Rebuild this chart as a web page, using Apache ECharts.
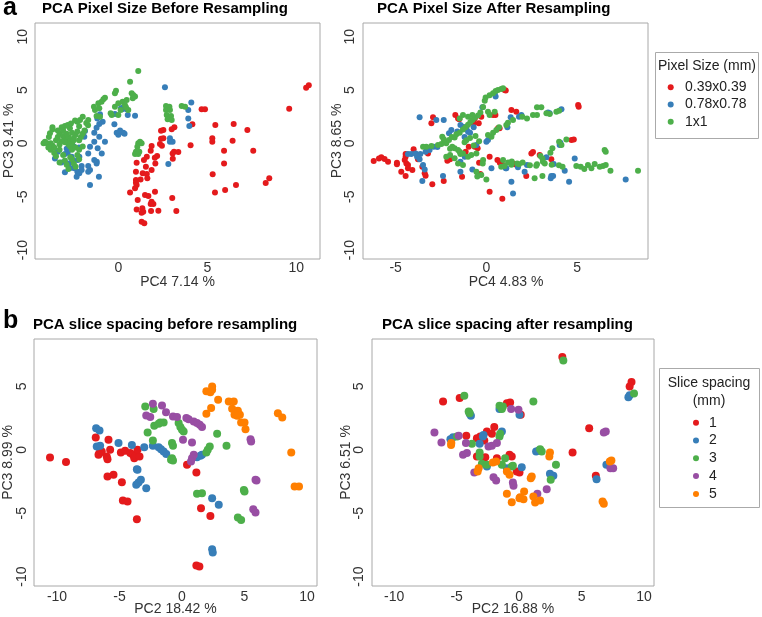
<!DOCTYPE html>
<html><head><meta charset="utf-8">
<script src="https://cdn.jsdelivr.net/npm/echarts@6/dist/echarts.min.js"></script>
<style>html,body{margin:0;padding:0;background:#fff}#c{width:762px;height:617px}</style>
</head><body><div id="c"></div>
<script>
// ---------- DATA ----------
const pixelLegend = ["0.39x0.39", "0.78x0.78", "1x1"];
const sliceLegend = ["1", "2", "3", "4", "5"];
const ticksA = [-10, -5, 0, 5, 10];
const ticksB = [-10, -5, 0, 5, 10];

// Panel a-left: PCA Pixel Size Before Resampling (PC4 vs PC3)
const pixBeforeRed = [[9.6,3.25],[10.55,5.2],[10.7,5.45],[4.68,3.19],[4.87,3.19],[4.16,1.78],[5.45,1.72],[6.48,1.81],[7.25,1.25],[5.28,0.47],[5.28,0.16],[6.42,0.25],[4.06,-0.19],[5.94,-0.69],[7.58,-0.69],[5.94,-1.88],[5.3,-2.9],[8.48,-3.28],[8.28,-3.72],[6.61,-3.9],[6.0,-4.38],[5.43,-4.6],[3.03,-5.13],[3.26,-6.34],[3.15,1.5],[3.0,1.31],[2.53,1.25],[2.4,1.19],[2.4,0.44],[2.53,0.47],[2.34,-0.06],[2.45,-0.22],[1.87,-0.25],[1.82,-0.69],[3.13,-0.78],[3.05,-0.94],[3.37,-0.81],[3.06,-1.44],[2.18,-1.19],[2.05,-1.34],[1.6,-1.25],[1.44,-1.56],[1.03,-1.81],[2.08,-1.88],[1.87,-2.5],[1.55,-2.19],[1.37,-2.81],[1.6,-2.88],[0.99,-2.66],[1.25,-3.38],[1.63,-3.28],[0.99,-3.44],[0.99,-3.69],[1.03,-3.9],[0.94,-4.22],[0.66,-4.6],[1.5,-4.84],[1.69,-4.94],[2.06,-4.53],[1.09,-5.31],[1.87,-5.47],[1.82,-5.69],[1.97,-5.69],[1.35,-6.09],[1.4,-6.4],[1.03,-6.19],[1.31,-6.5],[1.84,-6.34],[2.25,-6.31],[1.31,-7.34],[1.46,-7.5]];
const pixBeforeBlue = [[2.62,5.25],[4.1,3.84],[3.93,3.13],[3.93,2.34],[3.99,1.63],[2.9,0.47],[2.9,0.16],[3.05,0.16],[2.81,-1.94],[0.94,2.59],[0.15,3.28],[0.28,3.38],[0.22,3.19],[0.47,3.19],[0.53,2.65],[-0.19,2.75],[-0.88,2.03],[-1.07,1.81],[-0.22,1.78],[-0.09,0.99],[0.28,0.99],[-1.35,0.99],[-1.87,1.15],[-1.07,0.62],[-0.75,0.15],[-1.35,0.15],[-1.91,0.62],[-1.16,-0.47],[-0.93,-0.94],[-1.59,-0.32],[-1.69,-0.94],[-2.21,-0.38],[-2.19,-1.25],[-2.28,-1.56],[-1.35,-1.56],[-1.21,-1.72],[-1.69,-2.13],[-2.06,-2.13],[-2.62,-1.25],[-3.4,-0.78],[-3.56,-1.41],[-2.84,-0.88],[-2.47,-2.34],[-1.18,2.34],[-1.03,2.72],[-1.22,1.47],[0.0,0.8],[0.35,0.9],[0.1,1.2],[-1.22,-1.88],[-1.59,-2.5],[-1.69,-2.66],[-1.09,-3.13],[-1.59,-3.9],[-2.3,-2.66],[-2.19,-2.81],[-2.34,-3.13],[-2.06,-2.5],[-3.0,-2.72],[-2.81,-1.88],[-2.58,-1.56],[-3.0,-1.0],[-2.5,-0.3],[-2.9,-0.5],[-3.2,-1.8],[-2.7,-2.3]];
const pixBeforeGreen = [[1.12,6.78],[0.66,5.78],[-0.13,4.94],[-0.19,4.69],[-0.84,4.13],[-0.94,3.91],[-0.75,4.28],[-1.12,3.75],[-1.31,3.13],[-1.37,3.44],[-1.07,3.28],[-1.22,2.56],[-1.03,2.5],[-0.37,2.66],[-0.43,2.81],[-0.19,3.44],[0,3.75],[0.24,3.91],[0.47,4.06],[0.37,3.59],[0.13,3.13],[0.56,3.13],[0.43,3.38],[0.75,4.69],[0.84,4.53],[0.94,4.38],[0.81,4.22],[0,2.66],[-1.69,2.19],[-2.0,2.5],[-2.15,2.19],[-2.3,2.03],[-2.43,2.13],[-2.72,1.41],[-3.0,1.63],[-3.18,1.5],[2.68,3.5],[2.87,3.44],[2.68,3.13],[2.9,3.13],[2.72,2.66],[2.96,2.56],[2.77,2.25],[3.0,2.19],[3.56,3.5],[3.75,3.44],[1.12,0],[1.22,0.16],[1.31,0],[1.07,-0.31],[0.99,-0.78],[1.18,-0.78],[0.94,-1.0],[1.12,-1.0],[-4.0,0],[-4.2,0.0],[-3.8,0.0],[-3.7,-0.2],[-3.6,-0.4],[-3.5,0.3],[-3.7,1.5],[-3.7,1.3],[-3.4,0.6],[-3.3,0.9],[-3.1,0.7],[-3.0,0.5],[-2.9,0.3],[-2.8,0.6],[-2.9,0.9],[-2.7,0.2],[-2.6,0.0],[-2.8,-0.1],[-3.0,0.1],[-3.2,0.2],[-3.3,-0.1],[-2.5,0.5],[-2.4,0.8],[-2.6,1.0],[-2.3,1.1],[-2.5,0.3],[-2.7,-0.3],[-2.6,-0.6],[-2.4,-0.4],[-2.2,0.3],[-2.1,0.6],[-2.0,0.9],[-1.9,1.2],[-2.2,-0.6],[-2.0,-0.3],[-2.3,-1.1],[-2.7,-1.3],[-3.0,-1.6],[-3.3,-1.8],[-2.9,-2.0],[-2.5,-1.9],[-2.4,-2.2],[-2.2,-1.5],[-3.6,-0.9],[-3.3,-0.6],[-3.1,-1.1],[-3.9,0.6],[-3.4,1.2],[-3.1,1.2],[-2.2,1.6],[-1.8,1.9],[-1.7,1.7],[-2.6,-1.5],[-2.8,-2.4],[-3.5,-1.2],[-3.8,-0.6],[-3.84,0.94],[-4.12,0.15],[-3.93,-0.38],[-2.84,1.72],[-2.66,1.87]];

// Panel a-right: PCA Pixel Size After Resampling (PC4 vs PC3)
const pixAfterRed = [[-6.21,-1.66],[-5.92,-1.41],[-5.79,-1.31],[-5.61,-1.47],[-5.42,-1.72],[-4.93,-1.81],[-4.93,-1.97],[-4.69,-2.66],[-4.45,-1.0],[-4.45,-1.25],[-4.5,-1.56],[-4.41,-1.88],[-4.45,-3.06],[-4.32,-2.03],[-4.32,-2.34],[-4.08,-2.5],[-4.01,-0.56],[-3.77,-1.5],[-3.53,-2.19],[-3.4,-2.81],[-3.35,-3.03],[-3.22,-0.94],[-3.03,1.88],[-2.94,2.44],[-2.98,-3.84],[-2.35,-3.53],[-2.15,-1.63],[-1.71,2.66],[-1.56,2.34],[-1.34,-3.13],[-1.14,-0.78],[-0.64,-0.31],[-0.64,2.34],[-0.28,2.5],[-0.4,-1.81],[-0.33,-2.88],[0.18,-4.53],[0.88,-5.19],[0.18,-1.25],[0.61,-1.56],[0.74,-1.81],[0.92,-2.03],[0.64,1.41],[0.73,1.41],[1.38,3.13],[1.65,2.97],[1.0,5.0],[1.07,4.95],[0.37,2.66],[2.2,-3.06],[2.48,-0.94],[2.57,-0.8],[2.94,-1.09],[3.58,-1.5],[4.69,0.31],[4.82,0.37],[5.06,3.59],[5.09,3.44],[1.47,-1.88],[1.56,-1.97],[-0.42,1.88],[-0.7,1.88],[-1.49,2.25],[-2.0,-1.5],[-0.97,-0.31],[-0.48,-0.47],[0.5,2.66]];
const pixAfterBlue = [[-3.68,2.44],[-2.76,2.19],[-2.35,2.19],[-4.32,-1.0],[-4.14,-1.0],[-3.9,-0.94],[-3.64,-1.0],[-3.82,-1.25],[-3.68,-1.5],[-3.49,-2.03],[-3.4,-2.44],[-3.53,-3.53],[-3.35,-0.78],[-3.13,-0.63],[-2.9,-0.31],[-2.7,-0.35],[-2.39,-3.06],[-1.93,1.25],[-2.06,0.94],[-1.43,1.72],[-1.29,1.56],[-1.01,1.09],[-1.1,1.4],[-0.9,1.0],[-1.43,-1.72],[-1.43,-2.66],[-1.19,-1.25],[-0.77,-2.44],[-0.55,-0.16],[-0.22,3.38],[0,0.16],[0.09,0.31],[0.28,-2.34],[0.46,4.69],[0.51,4.38],[1.1,-2.34],[1.38,-3.59],[1.47,-4.69],[1.34,2.44],[1.16,1.5],[1.93,2.66],[1.8,2.5],[2.24,-2.03],[2.11,-2.66],[3.31,-1.31],[3.55,-3.28],[3.68,-3.06],[3.58,-3.06],[3.71,-1.94],[4.08,0.06],[4.04,-0.16],[4.56,-3.59],[4.32,-2.56],[4.87,-1.41],[4.14,3.19],[3.4,2.88],[3.49,2.81],[1.07,-2.34],[1.74,-2.25],[7.68,-3.38],[-1.6,1.1],[-1.2,0.6],[-0.7,1.5]];
const pixAfterGreen = [[-3.49,-0.31],[-3.31,-0.31],[-3.03,-0.25],[-2.67,-0.16],[-2.48,-0.06],[-2.3,0.16],[-2.21,0],[-2.06,0.31],[-2.43,0.63],[-2.35,0.38],[-1.9,0.6],[-1.75,0.55],[-1.65,0.85],[-1.47,1.0],[-1.29,1.3],[-1.15,1.5],[-1.01,1.75],[-0.88,2.0],[-0.77,2.2],[-0.64,2.4],[-0.46,2.6],[-0.33,2.9],[-0.18,3.4],[-0.09,4.0],[-0.04,4.3],[0.18,4.5],[0.37,4.7],[0.51,4.9],[0.64,5.0],[0.82,5.1],[-1.88,-0.31],[-1.75,-0.47],[-1.56,-0.63],[-1.47,-0.78],[-1.43,-1.0],[-1.29,-0.94],[-1.01,-1.25],[-0.83,-1.1],[-0.55,-0.94],[-2.21,-1.25],[-2.0,-1.1],[-1.75,-1.4],[-1.56,-1.88],[-1.29,-2.03],[-0.28,-2.97],[0,-3.38],[-0.55,-2.66],[-0.18,-1.56],[0.09,0.78],[0.28,0.63],[0.37,1.0],[0.55,1.25],[0.7,1.5],[0.18,2.66],[0.09,2.97],[0.46,2.97],[-0.77,2.66],[-1.01,2.5],[-1.29,2.66],[-1.47,2.34],[-1.1,0.3],[-0.9,0.5],[-0.6,0.7],[-0.4,0.2],[-0.7,-0.2],[-1.2,0.1],[-2.0,-0.5],[1.1,1.72],[1.19,1.94],[1.47,2.19],[1.98,2.5],[2.24,2.34],[2.57,2.66],[2.79,2.66],[2.79,3.38],[3.03,3.38],[3.31,2.81],[3.49,2.75],[3.86,2.97],[4.01,3.06],[0.92,5.16],[4.41,0.37],[4.01,0.16],[4.14,-0.16],[3.64,-0.47],[3.53,-0.88],[2.98,-1.19],[3.09,-1.41],[3.12,-1.72],[3.22,-1.88],[2.79,-1.97],[6.52,-0.63],[6.58,-0.78],[5.6,-2.03],[5.79,-2.34],[5.97,-1.94],[6.25,-2.19],[6.43,-2.13],[6.58,-2.03],[6.84,-2.56],[8.36,-2.56],[0.82,-2.19],[1.0,-2.13],[1.38,-2.0],[1.8,-1.97],[2.4,-2.05],[2.75,-2.1],[3.6,-2.0],[4.0,-2.05],[4.2,-2.2],[4.96,-2.13],[3.09,-3.06],[2.66,-3.28],[0.92,-1.56],[1.2,-1.8],[1.4,-1.7],[1.7,-1.9],[2.0,-1.8],[5.2,-2.2],[5.4,-2.4],[-0.5,-3.1],[-0.2,-1.9]];

// Panel b-left: PCA slice spacing before resampling (PC2 vs PC3)
const sliceBefore1 = [[-10.56,-0.61],[-9.28,-0.97],[-6.9,0.97],[-5.88,0.79],[-6.6,-0.26],[-6.68,-0.39],[-6.42,-0.13],[-6.02,-0.53],[-5.96,-0.74],[-5.75,0],[-5.96,-2.11],[-5.48,-1.97],[-4.89,-0.21],[-4.55,-0.08],[-4.81,-2.55],[-4.73,-4.0],[-4.36,-4.08],[-4.14,-0.26],[-3.93,-0.39],[-3.82,-0.66],[-3.74,-0.53],[-3.4,-0.53],[-3.56,0],[-3.61,-5.47],[0.4,-1.18],[1.15,-1.79],[1.52,-4.61],[2.27,-5.21],[1.15,-9.13],[1.39,-9.21]];
const sliceBefore2 = [[-6.87,1.71],[-6.6,1.53],[-6.82,0.26],[-6.55,0.32],[-5.08,0.53],[-4.01,0.39],[-3.02,0.21],[-3.61,-1.53],[-3.56,-1.58],[-3.66,-2.76],[-3.48,-2.58],[-3.29,-2.37],[-2.86,-3.03],[-2.33,0.32],[-1.87,0.21],[-1.68,0.05],[-1.47,-0.13],[-1.26,-0.32],[1.2,-0.58],[1.47,-0.47],[1.6,-0.39],[2.41,-3.82],[2.94,-4.34],[2.41,-7.84],[2.46,-8.1]];
const sliceBefore3 = [[-2.94,3.42],[-2.27,3.21],[-2.75,1.37],[-2.33,0.74],[-2.22,1.89],[-1.87,2.05],[-1.47,2.16],[-1.74,2.16],[-0.8,-0.66],[-0.88,-0.79],[-0.72,-0.84],[-0.8,0.53],[-0.72,0.32],[-0.27,2.11],[-0.13,1.79],[0,1.58],[0.13,1.45],[2.06,0],[2.22,0.26],[1.95,-0.21],[2.81,1.26],[3.56,0.32],[1.2,-3.47],[1.6,-3.42],[4.95,-3.16],[5.0,-3.29],[4.47,-5.34],[4.73,-5.53]];
const sliceBefore4 = [[-2.33,3.63],[-1.6,3.5],[-1.28,2.97],[-2.86,2.71],[-2.54,2.58],[-0.72,2.63],[-0.4,2.58],[0.35,2.5],[0.53,2.42],[0.94,2.24],[1.2,2.11],[1.42,1.97],[1.6,1.79],[0.08,0.79],[0.8,0.58],[0.94,-0.39],[0.8,-0.66],[0.72,-0.92],[5.48,0.84],[5.53,0.66],[5.88,-2.37],[5.96,-2.42],[5.7,-4.68],[5.88,-4.95]];
const sliceBefore5 = [[1.95,4.61],[2.27,4.55],[2.41,5.0],[2.41,4.74],[2.89,3.95],[2.33,3.29],[1.95,2.84],[3.74,3.82],[4.14,3.82],[4.01,3.24],[4.2,2.76],[4.47,3.08],[4.63,2.76],[4.41,2.68],[4.73,2.16],[5.0,2.16],[5.08,1.63],[7.67,2.89],[8.02,2.55],[8.74,-0.21],[9.01,-2.89],[9.36,-2.89]];

// Panel b-right: PCA slice spacing after resampling (PC2 vs PC3)
const sliceAfter1 = [[3.46,7.32],[-6.09,3.82],[-4.76,4.08],[-0.72,3.74],[-0.98,3.68],[0.13,2.76],[-1.99,1.79],[-2.58,1.45],[-2.18,1.26],[-3.11,1.05],[-3.38,0.92],[-4.23,1.1],[-2.79,0.74],[-3.38,-0.53],[-2.71,-0.58],[-1.78,-0.66],[-0.77,-0.39],[-0.59,-0.53],[-0.19,-1.71],[0.03,-1.79],[5.61,1.71],[4.28,-0.21],[6.14,-2.05],[9.0,5.35],[8.85,5.0]];
const sliceAfter2 = [[-5.5,0.84],[-5.29,1.0],[-3.96,2.84],[-3.86,2.68],[-2.9,1.05],[-2.85,1.16],[-3.16,0.47],[-1.38,1.45],[-1.57,3.21],[-1.38,3.37],[0.03,2.76],[1.36,-0.13],[1.54,-0.08],[0.21,-1.37],[2.47,-1.89],[2.74,-2.05],[-2.58,-1.32],[6.99,-1.18],[6.2,-2.32],[-0.98,-1.45],[8.75,4.15],[8.85,4.3]];
const sliceAfter3 = [[-4.39,4.26],[-4.04,3.03],[-3.96,2.89],[-1.57,3.47],[-1.3,3.42],[-1.38,3.21],[1.14,3.82],[3.54,7.05],[-4.97,1.05],[-3.78,0.47],[-3.16,-0.21],[-3.16,-0.53],[-2.98,-1.1],[-2.58,-1.18],[-1.57,1.05],[-1.52,1.26],[-1.12,-0.66],[-0.59,-1.32],[-0.5,-1.26],[-1.38,-1.18],[1.68,0.05],[1.81,-0.13],[2.95,-1.18],[2.53,-2.37],[9.2,4.45]];
const sliceAfter4 = [[-6.78,1.37],[-6.22,0.58],[-4.84,1.1],[-4.26,0.53],[-4.49,-0.39],[-4.18,-0.26],[-3.59,-1.79],[-2.45,0.26],[-2.18,0.32],[-1.78,0.53],[-2.05,-2.16],[-1.84,-2.42],[-0.5,-2.58],[-0.45,-2.84],[-0.64,3.21],[-0.05,3.16],[1.46,-3.47],[2.21,-3.11],[6.78,1.37],[6.94,1.45],[7.31,-1.45],[7.53,-1.45]];
const sliceAfter5 = [[-5.43,0.53],[-5.45,0.39],[-3.24,-1.45],[-3.32,-1.71],[-2.1,-1.0],[-1.84,-0.92],[-0.98,-1.71],[-0.77,-1.97],[-0.98,-3.47],[-0.59,-4.13],[0.08,-3.74],[0.4,-3.29],[0.03,-3.82],[0.35,-3.89],[1.01,-2.11],[0.93,-2.24],[1.14,-3.68],[1.28,-4.16],[1.68,-4.0],[2.47,-0.21],[2.42,-0.53],[6.68,-4.08],[6.78,-4.26],[7.26,-0.92],[7.39,-0.84]];

// ---------- STYLE ----------
const C = ['#E41A1C', '#377EB8', '#4DAF4A', '#984EA3', '#FF7F00'];
const FONT = '"Liberation Sans", Arial, Helvetica, sans-serif';
const grids = [
  {left: 35, top: 23, width: 285, height: 236},
  {left: 363, top: 23, width: 285, height: 236},
  {left: 34, top: 339, width: 283, height: 247},
  {left: 372, top: 339, width: 282, height: 247}
];
const xRanges = [[-4.68, 11.33], [-6.8, 8.91], [-11.84, 10.8], [-11.78, 10.8]];
const yRanges = [[-10.84, 11.28], [-10.84, 11.28], [-10.74, 8.74], [-10.74, 8.74]];
const xTicks = [[0, 5, 10], [-5, 0, 5], ticksB, ticksB];
const yTicks = [ticksA, ticksA, [-10, -5, 0, 5], [-10, -5, 0, 5]];
const xMargins = [2, 2, 4, 4];
const yMargins = [5, 6, 5, 6];

const xAxes = grids.map((g, i) => ({
  type: 'value', gridIndex: i, min: xRanges[i][0], max: xRanges[i][1],
  axisLine: {show: false}, axisTick: {show: false}, splitLine: {show: false},
  axisLabel: {customValues: xTicks[i], fontSize: 14, color: '#333', fontFamily: FONT, margin: xMargins[i]}
}));
const yAxes = grids.map((g, i) => ({
  type: 'value', gridIndex: i, min: yRanges[i][0], max: yRanges[i][1],
  axisLine: {show: false}, axisTick: {show: false}, splitLine: {show: false},
  axisLabel: {customValues: yTicks[i], fontSize: 14, color: '#333', fontFamily: FONT, rotate: 90, margin: yMargins[i]}
}));

function sc(data, idx, color, size) {
  return {type: 'scatter', xAxisIndex: idx, yAxisIndex: idx, data: data, symbol: 'circle',
    symbolSize: size, itemStyle: {color: color, opacity: 1}, silent: true, animation: false};
}
const SA = 6, SB = 8;
const series = [
  sc(pixBeforeRed, 0, C[0], SA), sc(pixBeforeBlue, 0, C[1], SA), sc(pixBeforeGreen, 0, C[2], SA),
  sc(pixAfterRed, 1, C[0], SA), sc(pixAfterBlue, 1, C[1], SA), sc(pixAfterGreen, 1, C[2], SA),
  sc(sliceBefore1, 2, C[0], SB), sc(sliceBefore2, 2, C[1], SB), sc(sliceBefore3, 2, C[2], SB), sc(sliceBefore4, 2, C[3], SB), sc(sliceBefore5, 2, C[4], SB),
  sc(sliceAfter1, 3, C[0], SB), sc(sliceAfter2, 3, C[1], SB), sc(sliceAfter3, 3, C[2], SB), sc(sliceAfter4, 3, C[3], SB), sc(sliceAfter5, 3, C[4], SB)
];

function txt(text, x, y, size, opts) {
  opts = opts || {};
  return {type: 'text', x: x, y: y, rotation: opts.rot || 0, silent: true,
    style: {text: text, font: (opts.bold ? 'bold ' : '') + size + 'px ' + FONT,
      fill: opts.color || '#1a1a1a', textAlign: opts.align || 'center', textVerticalAlign: 'middle'}};
}
const graphics = [
  txt('a', 3, 8, 25, {bold: true, align: 'left', color: '#000'}),
  txt('b', 3, 321, 25, {bold: true, align: 'left', color: '#000'}),
  txt('PCA Pixel Size Before Resampling', 42, 9, 15, {bold: true, align: 'left', color: '#000'}),
  txt('PCA Pixel Size After Resampling', 377, 9, 15, {bold: true, align: 'left', color: '#000'}),
  txt('PCA slice spacing before resampling', 33, 325, 15, {bold: true, align: 'left', color: '#000'}),
  txt('PCA slice spacing after resampling', 382, 325, 15, {bold: true, align: 'left', color: '#000'}),
  txt('PC4 7.14 %', 177.5, 282, 14, {color: '#333'}),
  txt('PC4 4.83 %', 506, 282, 14, {color: '#333'}),
  txt('PC2 18.42 %', 175.5, 609, 14, {color: '#333'}),
  txt('PC2 16.88 %', 513, 609, 14, {color: '#333'}),
  txt('PC3 9.41 %', 9, 141, 14, {rot: Math.PI / 2, color: '#333'}),
  txt('PC3 8.65 %', 337, 141, 14, {rot: Math.PI / 2, color: '#333'}),
  txt('PC3 8.99 %', 8, 462.5, 14, {rot: Math.PI / 2, color: '#333'}),
  txt('PC3 6.51 %', 346, 462.5, 14, {rot: Math.PI / 2, color: '#333'}),
  // legend a
  {type: 'rect', shape: {x: 655.5, y: 52.5, width: 103, height: 86}, style: {fill: '#fff', stroke: '#aaa', lineWidth: 1}, silent: true},
  txt('Pixel Size (mm)', 707, 66, 14, {color: '#222'}),
  // legend b
  {type: 'rect', shape: {x: 659.5, y: 368.5, width: 100, height: 139}, style: {fill: '#fff', stroke: '#aaa', lineWidth: 1}, silent: true},
  txt('Slice spacing', 709, 383, 14, {color: '#222'}),
  txt('(mm)', 709, 401, 14, {color: '#222'})
];
pixelLegend.forEach((t, i) => {
  const y = 87.3 + i * 17.2;
  graphics.push({type: 'circle', shape: {cx: 670.7, cy: y, r: 3}, style: {fill: C[i]}, silent: true});
  graphics.push(txt(t, 685, y, 14, {align: 'left', color: '#222'}));
});
sliceLegend.forEach((t, i) => {
  const y = 422.7 + i * 17.8;
  graphics.push({type: 'circle', shape: {cx: 696, cy: y, r: 3}, style: {fill: C[i]}, silent: true});
  graphics.push(txt(t, 709, y, 14, {align: 'left', color: '#222'}));
});

const chart = echarts.init(document.getElementById('c'), null, {renderer: 'canvas'});
chart.setOption({
  animation: false,
  backgroundColor: '#fff',
  grid: grids.map(g => Object.assign({show: true, borderColor: '#a8a8a8', borderWidth: 1, backgroundColor: 'transparent', containLabel: false}, g)),
  xAxis: xAxes,
  yAxis: yAxes,
  series: series,
  graphic: {elements: graphics}
});
</script>
</body></html>
